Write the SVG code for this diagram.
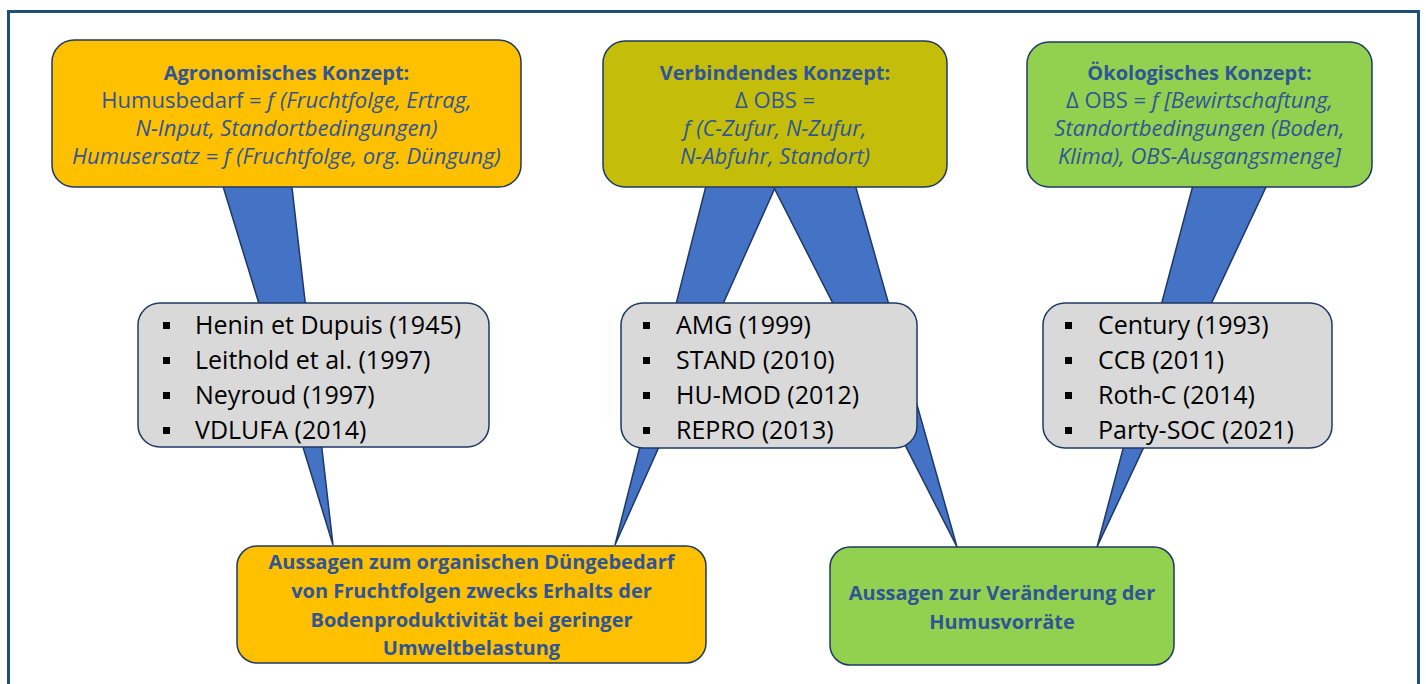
<svg xmlns="http://www.w3.org/2000/svg" width="1426" height="684" viewBox="0 0 1426 684">
<style>
.frame{fill:#fff;stroke:#1F4E79;stroke-width:3}
.wedge{fill:#4472C4;stroke:#1F3864;stroke-width:1.5;stroke-linejoin:miter}
.box{stroke:#1F3864;stroke-width:1.5}
.orange{fill:#FFC000}
.olive{fill:#C4BD09}
.green{fill:#92D050}
.grey{fill:#D9D9D9}
.t{font-family:"Open Sans","Noto Sans",sans-serif;fill:#2F5597;text-anchor:middle;font-size:22px}
.h{font-weight:bold;font-size:20px}
.i{font-style:italic}
.l{font-family:"Open Sans","Noto Sans",sans-serif;fill:#000;font-size:25px}
.b{fill:#000}
</style>
<rect class="frame" x="8.5" y="11.5" width="1410" height="700"/>
<g id="connectors">
<polygon class="wedge" points="218,170 290,170 333,545"/>
<polygon class="wedge" points="710,170 783,170 615,545"/>
<polygon class="wedge" points="765,170 851,170 957,547"/>
<polygon class="wedge" points="1197,170 1274,170 1097,547"/>
</g>
<g id="agronomisch">
<rect class="box orange" x="52" y="40" width="469" height="147" rx="22"/>
<text class="t h" x="286.5" y="80">Agronomisches Konzept:</text>
<text class="t" x="286.5" y="108">Humusbedarf = <tspan class="i">f (Fruchtfolge, Ertrag,</tspan></text>
<text class="t i" x="286.5" y="136">N-Input, Standortbedingungen)</text>
<text class="t i" x="286.5" y="164">Humusersatz = f (Fruchtfolge, org. Düngung)</text>
</g>
<g id="verbindend">
<rect class="box olive" x="603" y="41" width="344" height="146" rx="22"/>
<text class="t h" x="775" y="80">Verbindendes Konzept:</text>
<text class="t" x="775" y="108">Δ OBS =</text>
<text class="t i" x="775" y="136">f (C-Zufur, N-Zufur,</text>
<text class="t i" x="775" y="164">N-Abfuhr, Standort)</text>
</g>
<g id="oekologisch">
<rect class="box green" x="1027" y="42" width="345" height="145" rx="22"/>
<text class="t h" x="1199.5" y="80">Ökologisches Konzept:</text>
<text class="t" x="1199.5" y="108">Δ OBS = <tspan class="i">f [Bewirtschaftung,</tspan></text>
<text class="t i" x="1199.5" y="136">Standortbedingungen (Boden,</text>
<text class="t i" x="1199.5" y="164">Klima), OBS-Ausgangsmenge]</text>
</g>
<g id="modelle-agronomisch">
<rect class="box grey" x="138" y="303" width="351" height="144" rx="22"/>
<rect class="b" x="163" y="322" width="7" height="7"/>
<rect class="b" x="163" y="357" width="7" height="7"/>
<rect class="b" x="163" y="392" width="7" height="7"/>
<rect class="b" x="163" y="427" width="7" height="7"/>
<text class="l" x="195" y="334">Henin et Dupuis (1945)</text>
<text class="l" x="195" y="369">Leithold et al. (1997)</text>
<text class="l" x="195" y="404">Neyroud (1997)</text>
<text class="l" x="195" y="439">VDLUFA (2014)</text>
</g>
<g id="modelle-verbindend">
<rect class="box grey" x="621" y="303" width="296" height="145" rx="22"/>
<rect class="b" x="643" y="322" width="7" height="7"/>
<rect class="b" x="643" y="357" width="7" height="7"/>
<rect class="b" x="643" y="392" width="7" height="7"/>
<rect class="b" x="643" y="427" width="7" height="7"/>
<text class="l" x="676" y="334">AMG (1999)</text>
<text class="l" x="676" y="369">STAND (2010)</text>
<text class="l" x="676" y="404">HU-MOD (2012)</text>
<text class="l" x="676" y="439">REPRO (2013)</text>
</g>
<g id="modelle-oekologisch">
<rect class="box grey" x="1043" y="303" width="289" height="145" rx="22"/>
<rect class="b" x="1065" y="322" width="7" height="7"/>
<rect class="b" x="1065" y="357" width="7" height="7"/>
<rect class="b" x="1065" y="392" width="7" height="7"/>
<rect class="b" x="1065" y="427" width="7" height="7"/>
<text class="l" x="1098" y="334">Century (1993)</text>
<text class="l" x="1098" y="369">CCB (2011)</text>
<text class="l" x="1098" y="404">Roth-C (2014)</text>
<text class="l" x="1098" y="439">Party-SOC (2021)</text>
</g>
<g id="aussagen-duengebedarf">
<rect class="box orange" x="237" y="546" width="469" height="117" rx="20"/>
<text class="t h" x="471.5" y="569">Aussagen zum organischen Düngebedarf</text>
<text class="t h" x="471.5" y="598">von Fruchtfolgen zwecks Erhalts der</text>
<text class="t h" x="471.5" y="627">Bodenproduktivität bei geringer</text>
<text class="t h" x="471.5" y="655">Umweltbelastung</text>
</g>
<g id="aussagen-humusvorraete">
<rect class="box green" x="830" y="547" width="344" height="118" rx="20"/>
<text class="t h" x="1002" y="600">Aussagen zur Veränderung der</text>
<text class="t h" x="1002" y="629">Humusvorräte</text>
</g>
</svg>
